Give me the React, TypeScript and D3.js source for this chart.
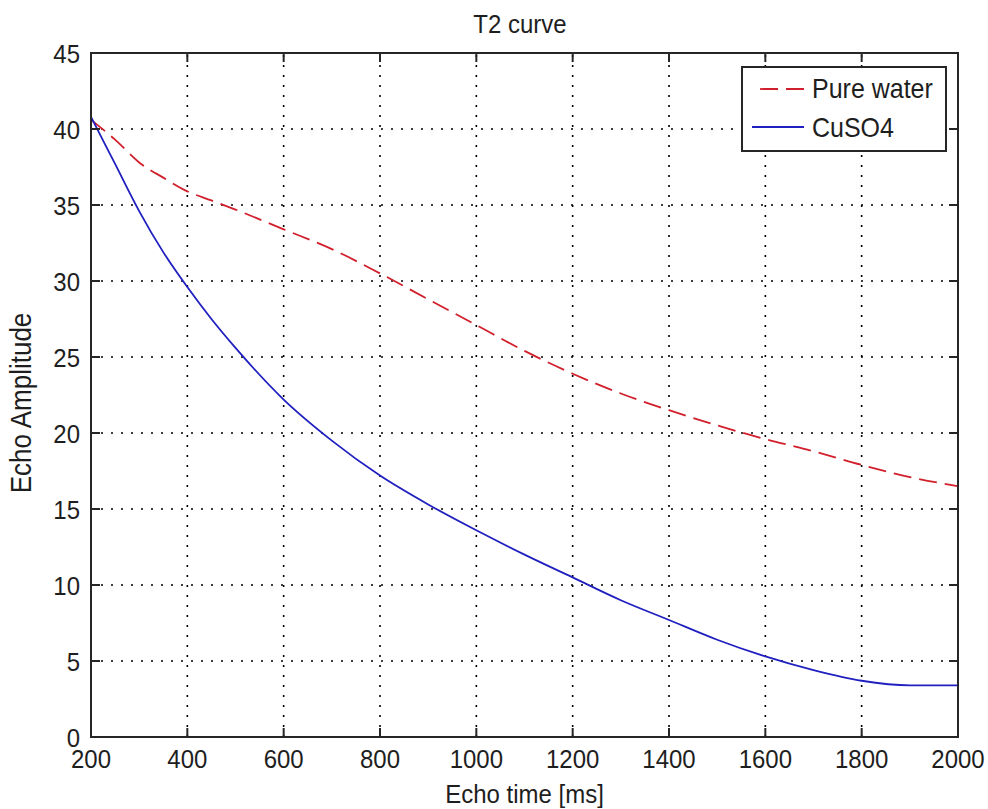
import React from "react";
import * as d3 from "d3";

const echoTimes = [200, 250, 300, 350, 400, 450, 500, 600, 700, 800, 900, 1000, 1100, 1200, 1300, 1400, 1500, 1600, 1700, 1800, 1900, 2000];
const pureWater = [40.6, 39.3, 37.8, 36.8, 35.9, 35.3, 34.7, 33.4, 32.1, 30.5, 28.8, 27.1, 25.4, 23.9, 22.6, 21.5, 20.5, 19.6, 18.8, 17.9, 17.1, 16.5];
const cuso4 = [40.8, 37.7, 34.6, 31.9, 29.6, 27.5, 25.6, 22.2, 19.5, 17.2, 15.3, 13.6, 12.0, 10.5, 9.0, 7.7, 6.4, 5.3, 4.4, 3.7, 3.4, 3.4];
const xTicks = [200, 400, 600, 800, 1000, 1200, 1400, 1600, 1800, 2000];
const yTicks = [0, 5, 10, 15, 20, 25, 30, 35, 40, 45];
const seriesNames = ["Pure water", "CuSO4"];

const W = 988, H = 809;
const L = 91, R = 958, T = 53, B = 737;
const FONT = "'Liberation Sans', Arial, Helvetica, sans-serif";
const RED = "#d21f2c";
const BLUE = "#2020c0";
const AX = "#262626";
const TXT = "#1e1e1e";
const SY = 1.1;

function Label(props: { x: number; y: number; size: number; anchor?: string; rotate?: number; children: React.ReactNode }) {
  const { x, y, size, anchor = "start", rotate = 0, children } = props;
  return (
    <text
      transform={`translate(${x},${y}) rotate(${rotate}) scale(1,${SY})`}
      textAnchor={anchor}
      fontSize={size}
      fill={TXT}
    >
      {children}
    </text>
  );
}

export default function App() {
  const x = d3.scaleLinear().domain([200, 2000]).range([L, R]);
  const y = d3.scaleLinear().domain([0, 45]).range([B, T]);
  const line = d3.line<number>()
    .x((_, i) => x(echoTimes[i]))
    .y((d) => y(d))
    .curve(d3.curveMonotoneX);
  const tick = 9;
  return (
    <svg width={W} height={H} style={{ position: "absolute", left: 0, top: 0, background: "#fff" }} fontFamily={FONT}>
      <rect x={0} y={0} width={W} height={H} fill="#fff" />
      <g stroke="#000" strokeWidth={1.6} strokeDasharray="2,8">
        {xTicks.slice(1, -1).map((t) => (
          <line key={"gx" + t} x1={x(t)} x2={x(t)} y1={B} y2={T} />
        ))}
        {yTicks.slice(1, -1).map((t) => (
          <line key={"gy" + t} x1={L} x2={R} y1={y(t)} y2={y(t)} />
        ))}
      </g>
      <path d={line(pureWater) || ""} fill="none" stroke={RED} strokeWidth={1.8} strokeDasharray="18,8" />
      <path d={line(cuso4) || ""} fill="none" stroke={BLUE} strokeWidth={1.8} />
      <g stroke={AX} strokeWidth={2}>
        {xTicks.map((t) => (
          <g key={"tx" + t}>
            <line x1={x(t)} x2={x(t)} y1={B} y2={B - tick} />
            <line x1={x(t)} x2={x(t)} y1={T} y2={T + tick} />
          </g>
        ))}
        {yTicks.map((t) => (
          <g key={"ty" + t}>
            <line x1={L} x2={L + tick} y1={y(t)} y2={y(t)} />
            <line x1={R} x2={R - tick} y1={y(t)} y2={y(t)} />
          </g>
        ))}
        <rect x={L} y={T} width={R - L} height={B - T} fill="none" />
      </g>
      {xTicks.map((t) => (
        <Label key={"lx" + t} x={x(t)} y={768} size={24} anchor="middle">{t}</Label>
      ))}
      {yTicks.map((t) => (
        <Label key={"ly" + t} x={80} y={y(t) + 9.5} size={24} anchor="end">{t}</Label>
      ))}
      <Label x={520} y={33} size={24} anchor="middle">T2 curve</Label>
      <Label x={(L + R) / 2} y={803} size={24} anchor="middle">Echo time [ms]</Label>
      <Label x={31} y={403} size={26} anchor="middle" rotate={-90}>Echo Amplitude</Label>
      <g>
        <rect x={742} y={67} width={204} height={84} fill="#fff" stroke={AX} strokeWidth={2} />
        <line x1={804} x2={752} y1={89} y2={89} stroke={RED} strokeWidth={1.8} strokeDasharray="18,8" />
        <line x1={752} x2={804} y1={127} y2={127} stroke={BLUE} strokeWidth={1.8} />
        <Label x={812} y={98} size={25}>{seriesNames[0]}</Label>
        <Label x={812} y={137} size={25}>{seriesNames[1]}</Label>
      </g>
    </svg>
  );
}
